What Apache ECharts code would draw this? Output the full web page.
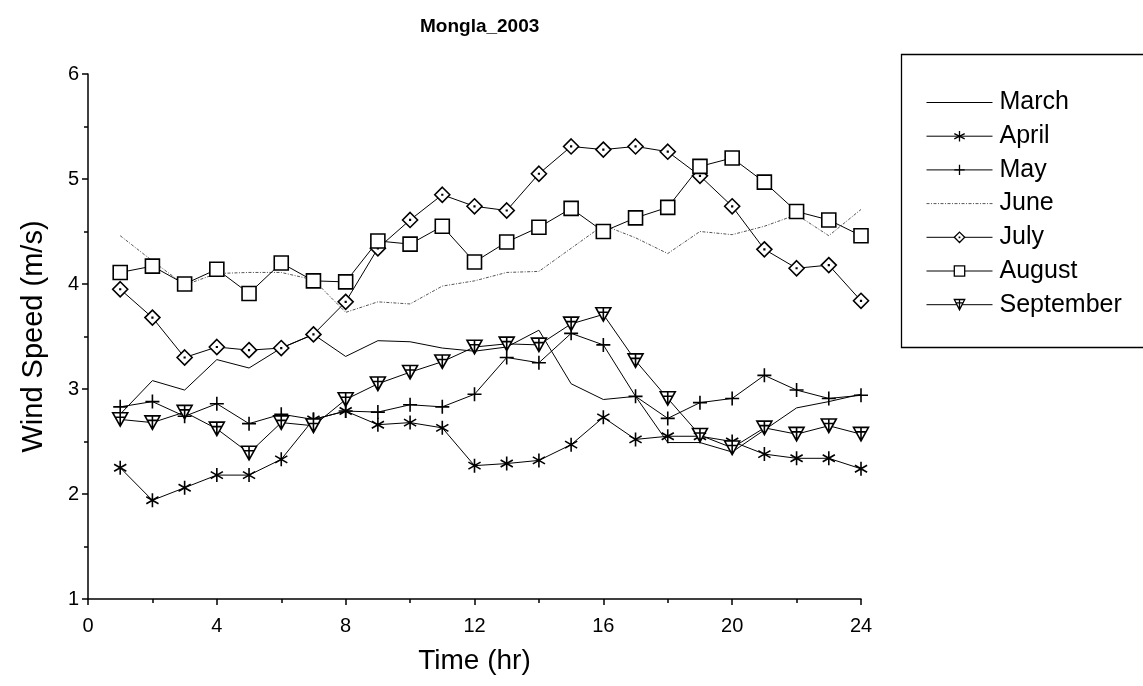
<!DOCTYPE html>
<html>
<head>
<meta charset="utf-8">
<script src="https://cdn.jsdelivr.net/npm/echarts@6/dist/echarts.min.js"></script>
<style>
  html, body { margin: 0; padding: 0; background: #fff; }
  #chart { width: 1143px; height: 686px; }
</style>
</head>
<body>
<div id="chart"></div>
<script>
// Hourly mean wind speed (m/s) at Mongla, 2003
const hours = [1,2,3,4,5,6,7,8,9,10,11,12,13,14,15,16,17,18,19,20,21,22,23,24];
const xTicks = [0, 4, 8, 12, 16, 20, 24];
const yTicks = [1, 2, 3, 4, 5, 6];

const march     = [2.76,3.08,2.99,3.28,3.20,3.39,3.52,3.31,3.46,3.45,3.39,3.36,3.40,3.56,3.05,2.90,2.93,2.49,2.49,2.40,2.61,2.82,2.88,2.95];
const april     = [2.25,1.94,2.06,2.18,2.18,2.33,2.71,2.79,2.66,2.68,2.63,2.27,2.29,2.32,2.47,2.73,2.52,2.55,2.55,2.50,2.38,2.34,2.34,2.24];
const may       = [2.83,2.88,2.74,2.86,2.67,2.76,2.71,2.79,2.78,2.85,2.83,2.95,3.30,3.25,3.53,3.42,2.93,2.72,2.87,2.91,3.13,2.99,2.91,2.94];
const june      = [4.46,4.22,3.99,4.10,4.11,4.11,4.04,3.73,3.83,3.81,3.98,4.03,4.11,4.12,4.34,4.56,4.44,4.29,4.50,4.47,4.55,4.66,4.46,4.71];
const july      = [3.95,3.68,3.30,3.40,3.37,3.39,3.52,3.83,4.34,4.61,4.85,4.74,4.70,5.05,5.31,5.28,5.31,5.26,5.03,4.74,4.33,4.15,4.18,3.84];
const august    = [4.11,4.17,4.00,4.14,3.91,4.20,4.03,4.02,4.41,4.38,4.55,4.21,4.40,4.54,4.72,4.50,4.63,4.73,5.12,5.20,4.97,4.69,4.61,4.46];
const september = [2.71,2.68,2.78,2.62,2.39,2.68,2.65,2.90,3.05,3.16,3.26,3.40,3.43,3.42,3.62,3.71,3.27,2.91,2.56,2.44,2.63,2.57,2.65,2.57];

const FONT = '"Liberation Sans", Arial, Helvetica, sans-serif';

// Marker shapes (outline style); "blank" is an invisible square so plain lines stay marker-free in the legend
const SYM = {
  blank: 'path://M0,0L1,0L1,1L0,1Z',
  asterisk: 'path://M0,-1L0,1M-0.87,-0.5L0.87,0.5M-0.87,0.5L0.87,-0.5',
  plus: 'path://M0,-1L0,1M-1,0L1,0',
  diamondDot: 'path://M0,-1L1,0L0,1L-1,0Z M-0.04,-0.04L0.04,-0.04L0.04,0.04L-0.04,0.04Z',
  square: 'path://M-1,-1L1,-1L1,1L-1,1Z',
  triPlus: 'path://M-1,-0.8L1,-0.8L0,1Z M0,-0.8L0,1 M-0.67,-0.2L0.67,-0.2'
};

function pairs(arr) { return hours.map((h, i) => [h, arr[i]]); }

function lineSeries(name, arr, symbol, size, extraLine) {
  const marked = symbol !== SYM.blank;
  return {
    name: name,
    type: 'line',
    data: pairs(arr),
    symbol: symbol,
    symbolSize: size,
    symbolKeepAspect: true,
    showSymbol: marked,
    lineStyle: Object.assign({ color: '#000', width: 1 }, extraLine || {}),
    itemStyle: marked
      ? { color: '#fff', borderColor: '#000', borderWidth: 1.6 }
      : { color: 'rgba(255,255,255,0)', borderColor: 'rgba(255,255,255,0)', borderWidth: 0, opacity: 0 },
    emphasis: { disabled: true },
    silent: true,
    z: 2
  };
}

const chart = echarts.init(document.getElementById('chart'), null, { renderer: 'canvas' });

chart.setOption({
  animation: false,
  backgroundColor: '#fff',
  title: {
    text: 'Mongla_2003',
    left: 420,
    top: 17,
    padding: 0,
    textStyle: { fontFamily: FONT, fontSize: 19, fontWeight: 'bold', color: '#000' }
  },
  grid: { left: 88, top: 74, width: 773, height: 525, containLabel: false },
  xAxis: {
    type: 'value',
    min: xTicks[0],
    max: xTicks[xTicks.length - 1],
    interval: 4,
    name: 'Time (hr)',
    nameLocation: 'middle',
    nameGap: 48,
    nameTextStyle: { fontFamily: FONT, fontSize: 28, color: '#000' },
    axisLine: { show: true, onZero: false, lineStyle: { color: '#000', width: 1.5 } },
    axisTick: { show: true, inside: false, length: 6, lineStyle: { color: '#000', width: 1.5 } },
    minorTick: { show: true, splitNumber: 2, length: 4, lineStyle: { color: '#000', width: 1.5 } },
    splitLine: { show: false },
    axisLabel: { fontFamily: FONT, fontSize: 20, color: '#000', margin: 17 }
  },
  yAxis: {
    type: 'value',
    min: yTicks[0],
    max: yTicks[yTicks.length - 1],
    interval: 1,
    name: 'Wind Speed (m/s)',
    nameLocation: 'middle',
    nameGap: 40,
    nameTextStyle: { fontFamily: FONT, fontSize: 29, color: '#000' },
    axisLine: { show: true, onZero: false, lineStyle: { color: '#000', width: 1.5 } },
    axisTick: { show: true, inside: false, length: 6, lineStyle: { color: '#000', width: 1.5 } },
    minorTick: { show: true, splitNumber: 2, length: 4, lineStyle: { color: '#000', width: 1.5 } },
    splitLine: { show: false },
    axisLabel: { fontFamily: FONT, fontSize: 20, color: '#000', margin: 9 }
  },
  legend: {
    orient: 'vertical',
    left: 926,
    top: 90,
    padding: 0,
    itemGap: 8.7,
    itemWidth: 66,
    itemHeight: 13,
    selectedMode: false,
    lineStyle: { width: 1 },
    itemStyle: { borderWidth: 1.3 },
    textStyle: { fontFamily: FONT, fontSize: 25, color: '#000', padding: [0, 0, 0, 2] },
    data: ['March', 'April', 'May', 'June', 'July', 'August', 'September']
  },
  graphic: [{
    type: 'rect',
    shape: { x: 901.5, y: 54.5, width: 260, height: 293 },
    style: { fill: 'none', stroke: '#000', lineWidth: 1.3 },
    silent: true
  }],
  series: [
    lineSeries('March', march, SYM.blank, 4),
    lineSeries('April', april, SYM.asterisk, 14),
    lineSeries('May', may, SYM.plus, 14),
    lineSeries('June', june, SYM.blank, 4, { color: '#555', type: [3, 1.5, 1, 1.5], width: 1 }),
    lineSeries('July', july, SYM.diamondDot, 15),
    lineSeries('August', august, SYM.square, 14),
    lineSeries('September', september, SYM.triPlus, 15)
  ]
});
</script>
</body>
</html>
